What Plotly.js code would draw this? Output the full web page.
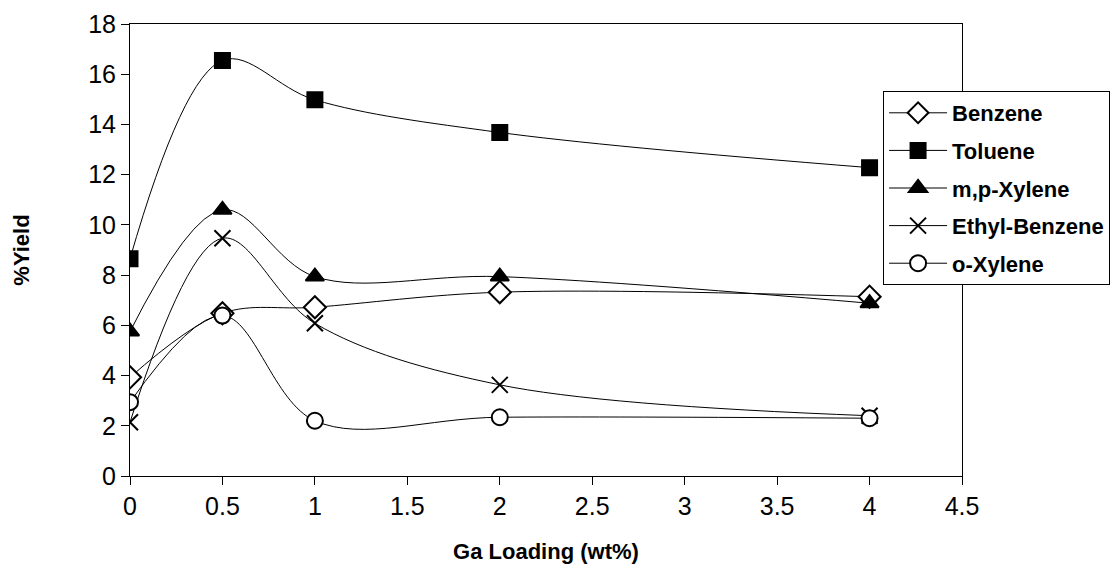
<!DOCTYPE html>
<html>
<head>
<meta charset="utf-8">
<script src="https://cdn.plot.ly/plotly-3.0.1.min.js"></script>
<style>html,body{margin:0;padding:0;background:#fff;}#chart{width:1114px;height:567px;}</style>
</head>
<body>
<div id="chart"></div>
<script>
const gaLoading = [0, 0.5, 1, 2, 4];
const benzene = [3.93, 6.48, 6.72, 7.32, 7.14];
const toluene = [8.65, 16.55, 14.98, 13.68, 12.28];
const mpXylene = [5.75, 10.6, 7.94, 7.94, 6.88];
const ethylBenzene = [2.14, 9.47, 6.08, 3.63, 2.4];
const oXylene = [2.94, 6.39, 2.2, 2.34, 2.3];
const xTicks = [0, 0.5, 1, 1.5, 2, 2.5, 3, 3.5, 4, 4.5];
const yTicks = [0, 2, 4, 6, 8, 10, 12, 14, 16, 18];

function series(name, y, symbol, size, fill, group) {
  return {
    x: gaLoading, y: y, name: name, type: 'scatter', mode: 'lines+markers',
    legendgroup: group,
    line: {color: '#000', width: 1, shape: 'spline', smoothing: 1},
    marker: {symbol: symbol, size: size, color: fill,
             line: {color: '#000', width: 2}}
  };
}

const data = [
  series('Benzene', benzene, 'diamond', 17, '#fff', 'a'),
  series('Toluene', toluene, 'square', 15, '#000', 'b'),
  series('m,p-Xylene', mpXylene, 'triangle-up', 16, '#000', 'c'),
  series('Ethyl-Benzene', ethylBenzene, 'x-thin-open', 16, '#000', 'd'),
  series('o-Xylene', oXylene, 'circle', 16, '#fff', 'e')
];

const layout = {
  width: 1114, height: 567,
  margin: {l: 130, r: 152, t: 24, b: 91, autoexpand: false},
  paper_bgcolor: '#fff', plot_bgcolor: '#fff',
  font: {family: 'Liberation Sans, Arial, sans-serif', color: '#000', size: 25},
  showlegend: true,
  xaxis: {
    range: [0, 4.5], tickvals: xTicks, ticktext: xTicks.map(String), automargin: false,
    showgrid: false, zeroline: false, showline: true, linecolor: '#000', linewidth: 1,
    mirror: true, ticks: 'outside', ticklen: 8, tickcolor: '#000',
    tickfont: {size: 25},
    title: {text: '<b>Ga Loading (wt%)</b>', font: {size: 22}, standoff: 24}
  },
  yaxis: {
    range: [0, 18], tickvals: yTicks, ticktext: yTicks.map(String), automargin: false,
    showgrid: false, zeroline: false, showline: true, linecolor: '#000', linewidth: 1,
    mirror: true, ticks: 'outside', ticklen: 8, tickcolor: '#000',
    tickfont: {size: 25},
    title: {text: '<b>%Yield</b>', font: {size: 22}, standoff: 52}
  },
  legend: {
    xref: 'container', yref: 'container',
    x: 0.7927, y: 0.8395, xanchor: 'left', yanchor: 'top',
    bgcolor: '#fff', bordercolor: '#000', borderwidth: 1,
    font: {size: 22, family: 'Liberation Sans, Arial, sans-serif', weight: 'bold'},
    tracegroupgap: 6, itemwidth: 58, traceorder: 'grouped'
  }
};

Plotly.newPlot('chart', data, layout, {displayModeBar: false, staticPlot: true});
</script>
</body>
</html>
